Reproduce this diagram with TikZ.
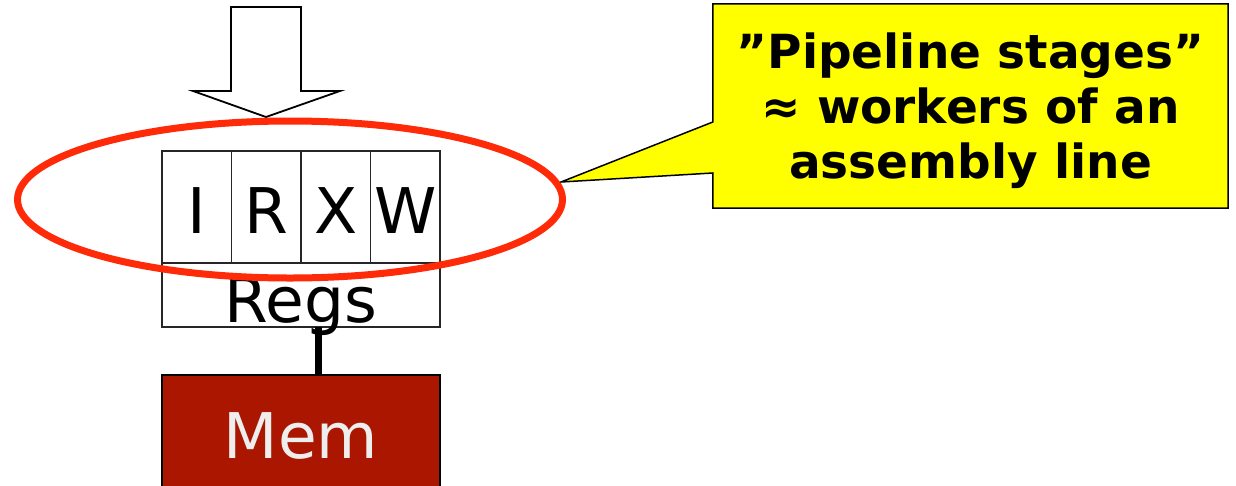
\documentclass[tikz,border=0pt]{standalone}
\usepackage{fontspec}
\setmainfont{DejaVu Sans}
\usetikzlibrary{backgrounds}
\definecolor{memred}{HTML}{AA1600}
\definecolor{ringred}{HTML}{FF2A08}
\definecolor{notefill}{HTML}{FFFF00}
\definecolor{memtext}{HTML}{EEEEEE}
\begin{document}
\begin{tikzpicture}[x=1pt,y=-1pt,
  box/.style={draw=black!85,line width=1.5pt,fill=white,inner sep=0pt,outer sep=0pt},
  cell/.style={box,minimum width=69.5pt,minimum height=112pt,
    font=\fontsize{63}{63}\selectfont,text height=52pt,text depth=0pt},
  wire/.style={line width=7pt,black},
  ring/.style={draw=ringred,line width=7pt},
  note/.style={font=\bfseries\fontsize{47}{55}\selectfont,align=center,inner sep=0pt,
    minimum width=515pt,minimum height=204pt}]
\useasboundingbox (0,0) rectangle (1236,485);
\clip (0,0) rectangle (1236,485);

% incoming instruction arrow
\draw[line width=1.8pt,fill=white] (231,7) -- (301,7) -- (301,91) -- (340,91)
  -- (266,117) -- (193,91) -- (231,91) -- cycle;

% pipeline stage cells
\node[cell] (I) at (196.75,207) {I};
\node[cell,anchor=west] (R) at (I.east) {R};
\node[cell,anchor=west] (X) at (R.east) {X};
\node[cell,anchor=west] (W) at (X.east) {W};

% register file
\node[box,minimum width=278pt,minimum height=64pt,
  font=\fontsize{63}{63}\selectfont,text height=54pt,text depth=0pt]
  (regs) at (301,295) {Regs};

% memory
\node[draw=black,line width=1.5pt,fill=memred,inner sep=0pt,outer sep=0pt,
  minimum width=278pt,minimum height=125pt,text=memtext,
  font=\fontsize{63}{63}\selectfont,text height=41pt,text depth=0pt]
  (mem) at (301,437.5) {Mem};

\draw[wire] ([xshift=17pt]regs.south) -- ([xshift=17pt]mem.north);

% highlight ring around the stages
\draw[ring] (290,199.5) ellipse [x radius=272.5, y radius=78.5];

% callout: text node, frame and pointer drawn behind it
\node[note] (note) at (970.5,111) {”Pipeline stages”\\≈ workers of an\\assembly line};
\coordinate (tip) at (561,182);
\begin{scope}[on background layer,every node/.style={}]
  \draw[line width=1.5pt,fill=notefill]
    ([yshift=5pt]note.north west) -- ([yshift=5pt]note.north east)
    -- ([yshift=5pt]note.south east) -- ([yshift=5pt]note.south west)
    -- (note.west |- 0,173) -- (tip) -- (note.west |- 0,122) -- cycle;
\end{scope}
\end{tikzpicture}
\end{document}
